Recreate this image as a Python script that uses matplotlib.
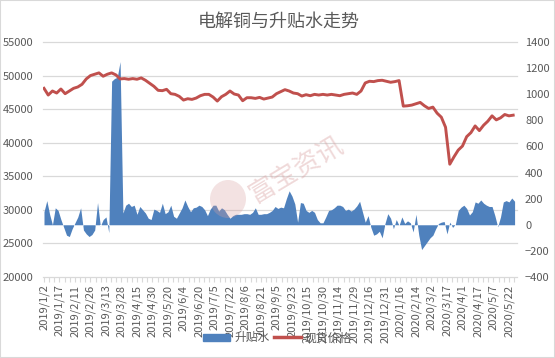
import matplotlib
matplotlib.use('Agg')
import matplotlib.pyplot as plt
import numpy as np
from matplotlib.patches import Patch, Rectangle, Ellipse
from matplotlib.lines import Line2D
from matplotlib.transforms import blended_transform_factory

plt.rcParams['font.family'] = ['Noto Sans CJK SC', 'DejaVu Sans']

# x axis: trading days, a label every 11th day
date_labels = ['2019/1/2', '2019/1/17', '2019/2/11', '2019/2/26', '2019/3/13',
               '2019/3/28', '2019/4/15', '2019/4/30', '2019/5/20', '2019/6/4',
               '2019/6/20', '2019/7/5', '2019/7/22', '2019/8/6', '2019/8/21',
               '2019/9/5', '2019/9/23', '2019/10/15', '2019/10/30', '2019/11/14',
               '2019/11/29', '2019/12/16', '2019/12/31', '2020/1/16', '2020/2/14',
               '2020/3/2', '2020/3/17', '2020/4/1', '2020/4/17', '2020/5/7',
               '2020/5/22']
label_step = 11
n_days = 336

# 现货价格 (left axis), read every 3rd trading day
price_step = 3
price = [48100, 47100, 47700, 47400, 48000, 47300, 47700, 48100, 48300, 48700, 49500, 50000,
         50200, 50400, 49900, 50200, 50400, 50100, 49500, 49550, 49450, 49550, 49450, 49650,
         49300, 48850, 48400, 47800, 47750, 47950, 47300, 47200, 46900, 46350, 46550, 46450,
         46650, 47000, 47200, 47200, 46800, 46200, 46850, 47200, 47700, 47250, 47100, 46250,
         46700, 46700, 46600, 46750, 46500, 46650, 46800, 47300, 47600, 47900, 47700, 47400,
         47300, 46950, 47150, 47000, 47200, 47100, 47200, 47100, 47200, 47100, 47000, 47200,
         47300, 47400, 47200, 47700, 48900, 49150, 49100, 49250, 49300, 49150, 49000, 49100,
         49250, 45450, 45500, 45600, 45800, 46000, 45500, 45100, 45300, 44400, 43800, 42300,
         36800, 37900, 38900, 39500, 40900, 41500, 42500, 41800, 42600, 43200, 44000, 43400,
         43700, 44200, 44000, 44100]

# 升贴水 (right axis), read every 2nd trading day
basis_step = 2
basis = [100, 185, 80, 0, 130, 110, 40, -20, -80, -90, -30, 15,
         60, 130, -40, -70, -90, -75, -40, 170, -10, 40, 60, -60,
         1100, 1120, 1130, 1250, 90, 150, 165, 140, 150, 80, 140, 115,
         90, 50, 40, 120, 110, 95, 165, 85, 100, 150, 65, 50,
         90, 130, 190, 140, 100, 130, 135, 150, 140, 115, 70, 120,
         150, 150, 105, 130, 115, 80, 50, 70, 80, 80, 80, 85,
         85, 80, 95, 130, 80, 80, 85, 85, 95, 110, 140, 125,
         135, 130, 200, 260, 220, 160, 20, 170, 165, 110, 95, 110,
         95, 40, 15, 15, 60, 110, 115, 130, 150, 150, 140, 110,
         120, 105, 120, 145, 180, 100, 20, 70, -20, -80, -70, -50,
         -100, 10, 85, 50, -30, 40, -5, 60, 10, 30, 15, -55,
         80, -80, -190, -160, -130, -100, -80, -30, 10, 20, 25, -70,
         20, -20, 5, 110, 135, 150, 125, 75, 100, 175, 165, 190,
         165, 150, 140, 140, 70, -15, 60, 175, 185, 175, 205, 180]

left_ticks = np.arange(20000, 55001, 5000)
right_ticks = np.arange(-400, 1401, 200)

BLUE = '#4F81BD'
RED = '#C0504D'
GRID = '#D9D9D9'
TXT = '#595959'

fig = plt.figure(figsize=(5.55, 3.58), dpi=100)
ax = fig.add_axes([0.078, 0.2263, 0.853, 0.6564])
ax2 = ax.twinx()
ax.set_zorder(ax2.get_zorder() + 1)
ax.patch.set_visible(False)

x_price = np.arange(len(price)) * price_step
x_basis = np.arange(len(basis)) * basis_step

ax.set_ylim(20000, 55000)
ax2.set_ylim(-400, 1400)
ax.set_xlim(-0.5, n_days - 0.5)

# gridlines of the left axis, drawn behind the area
trans = blended_transform_factory(ax2.transAxes, ax.transData)
for v in left_ticks[1:]:
    ax2.add_line(Line2D([0, 1], [v, v], transform=trans, color=GRID, lw=0.9,
                        clip_on=False, zorder=0))

ax2.fill_between(x_basis, 0, basis, color=BLUE, lw=0, zorder=2)
ax.plot(x_price, price, color=RED, lw=2.1, solid_joinstyle='round')

ax2.set_ylim(-400, 1400)
ax.set_yticks(left_ticks)
ax2.set_yticks(right_ticks)
ax.set_xticks(np.arange(len(date_labels)) * label_step)
ax.set_xticklabels(date_labels, rotation=90)
ax.set_xticks(np.arange(0, n_days, label_step / 3), minor=True)

for a in (ax, ax2):
    for s in a.spines.values():
        s.set_visible(False)
ax.spines['bottom'].set_visible(True)
ax.spines['bottom'].set_color(GRID)
ax.spines['bottom'].set_linewidth(0.9)

ax.tick_params(axis='y', length=0, labelsize=8, labelcolor=TXT, pad=7)
ax2.tick_params(axis='y', length=0, labelsize=8, labelcolor=TXT, pad=6)
ax.tick_params(axis='x', which='both', length=3.5, color=GRID, width=0.8)
ax.tick_params(axis='x', which='major', labelsize=8, labelcolor=TXT, pad=2)

fig.text(0.503, 0.9385, '电解铜与升贴水走势', ha='center', va='center',
         fontsize=13, color=TXT)

handles = [Patch(color=BLUE), Line2D([], [], color=RED, lw=2.5)]
fig.legend(handles, ['升贴水', '现货价格'], loc='center', bbox_to_anchor=(0.5, 0.056),
           ncol=2, frameon=False, fontsize=8.5, handlelength=2.3, handleheight=0.6,
           handletextpad=0.3, columnspacing=0.4, labelcolor=TXT)

# watermark
fig.text(297 / 555, 1 - 170 / 358, '富宝资讯', rotation=31, fontsize=19,
         color='#D9A0A0', alpha=0.4, ha='center', va='center', zorder=5)
fig.patches.append(Ellipse((228 / 555, 1 - 199 / 358), 36 / 555, 38 / 358,
                           transform=fig.transFigure, color='#D9A0A0', alpha=0.3,
                           lw=0, zorder=5))

fig.patches.append(Rectangle((0, 0), 1, 1, transform=fig.transFigure, fill=False,
                             edgecolor=GRID, lw=1.5))

fig.savefig('out.png', dpi=100)
